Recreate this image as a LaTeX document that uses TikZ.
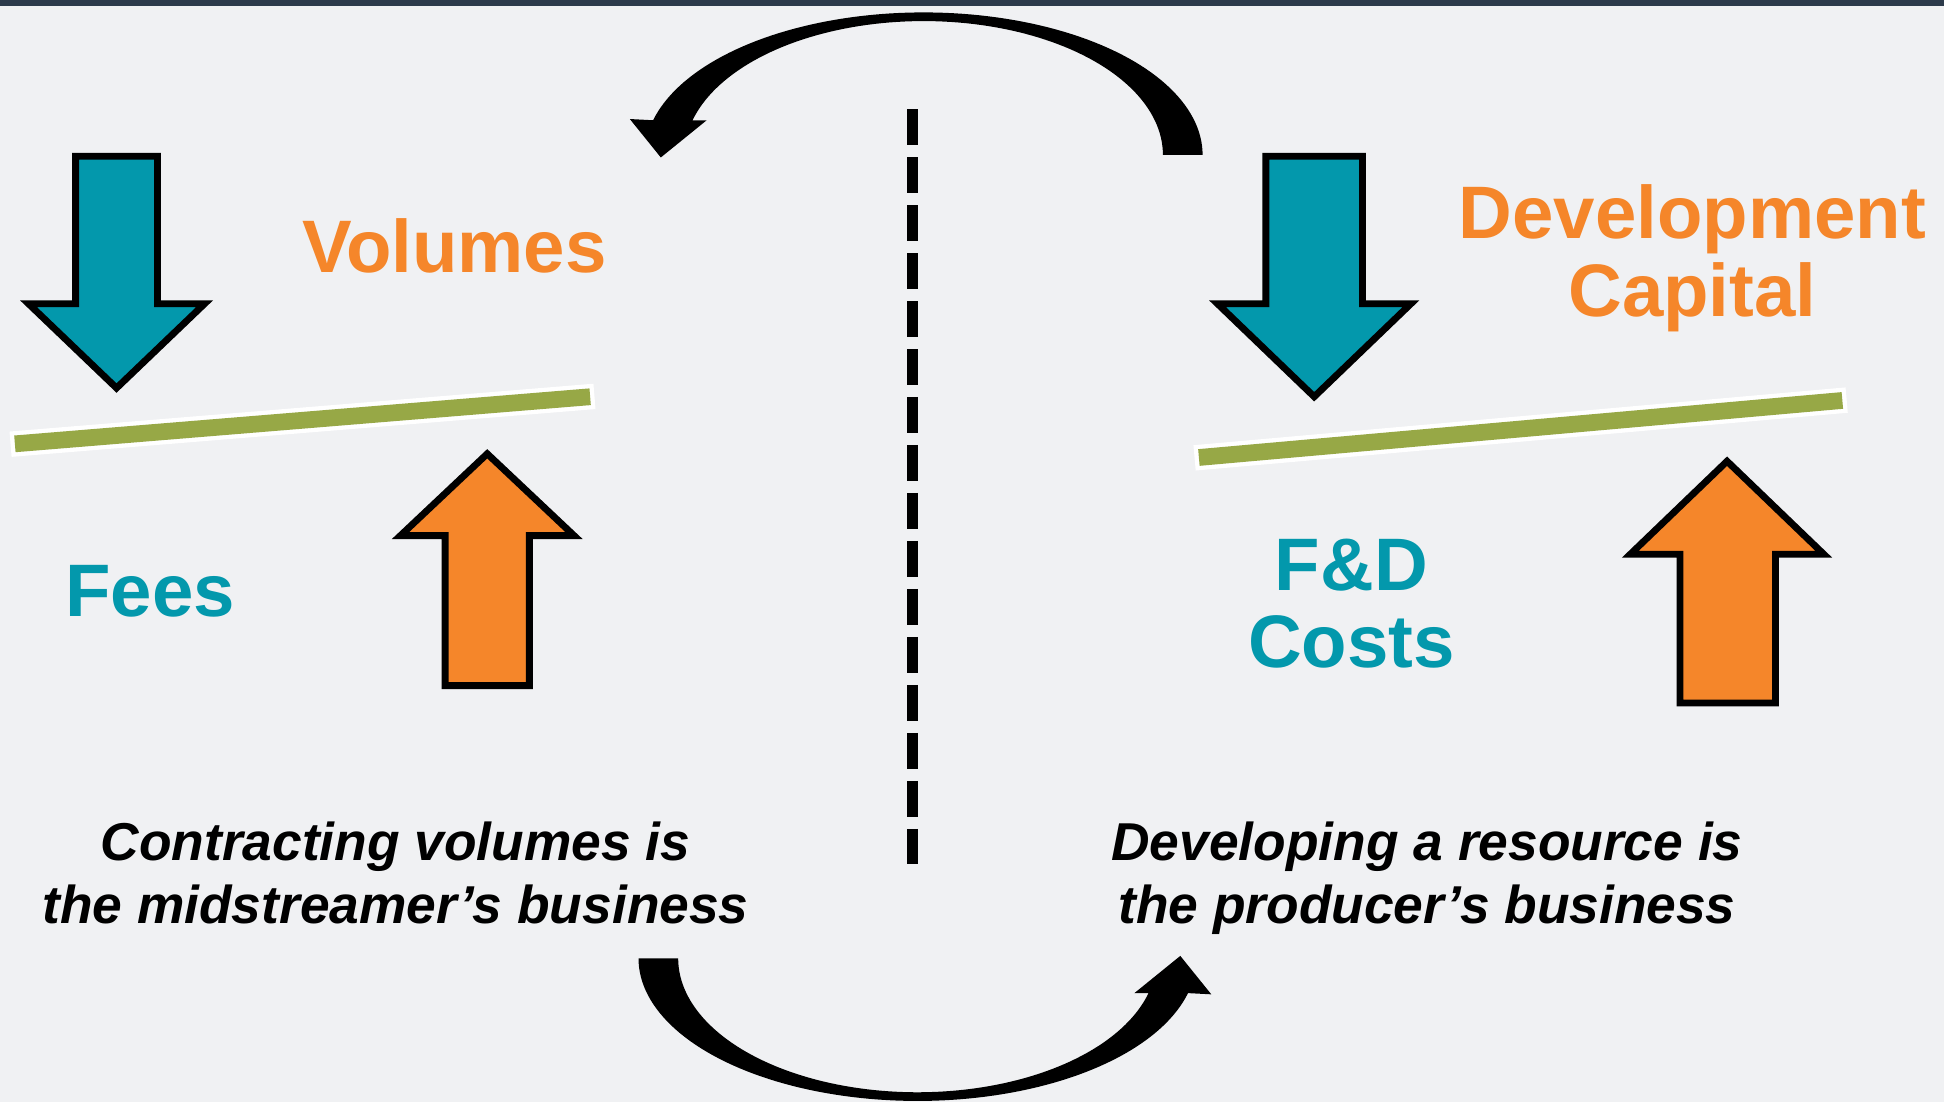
\documentclass[tikz,border=0pt]{standalone}
\usepackage{fontspec}
\setmainfont{Liberation Sans}
\definecolor{pagebg}{HTML}{F0F1F3}
\definecolor{topband}{HTML}{2C3A4B}
\definecolor{tealc}{HTML}{0398AC}
\definecolor{orangec}{HTML}{F5862A}
\definecolor{leverc}{HTML}{97A846}
\begin{document}
\begin{tikzpicture}[x=1pt,y=-1pt,
  blockarrow/.style={draw=black, line width=5.5pt, line join=miter, miter limit=10},
  lever/.style={leverc, line width=13.5pt},
  leverrim/.style={white, line width=20.5pt, shorten <=-3.5pt, shorten >=-3.5pt},
  bigword/.style={font=\fontsize{60}{64}\selectfont\bfseries, inner sep=0pt, anchor=base},
  caption/.style={font=\fontsize{43}{51}\selectfont\bfseries\itshape, inner sep=0pt, anchor=base, text=black},
  swoosh/.style={fill=black},
  divider/.style={black, line width=9.5pt, dash pattern=on 28.8pt off 9.9pt}]

% page
\fill[pagebg] (0,0) rectangle (1568,889);
\useasboundingbox (0,0) rectangle (1568,889);
\fill[topband] (0,0) rectangle (1568,5);

% central divider
\coordinate (divtop) at (736,88);
\coordinate (divbot) at (736,697);
\draw[divider] (divtop) -- (divbot);

% curved arrow over the top, pointing left
\fill[swoosh]
  plot[domain=0:-165.9, samples=90] ({745+225*cos(\x)},{125+115*sin(\x)})
  -- (508,96) -- (533,127) -- (570,97)
  -- plot[domain=-165:0, samples=90] ({745+193*cos(\x)},{125+108*sin(\x)})
  -- cycle;

% the same arrow turned half round, under the bottom, pointing right
\begin{scope}[rotate around={180:(742.5,449)}]
\fill[swoosh]
  plot[domain=0:-165.9, samples=90] ({745+225*cos(\x)},{125+115*sin(\x)})
  -- (508,96) -- (533,127) -- (570,97)
  -- plot[domain=-165:0, samples=90] ({745+193*cos(\x)},{125+108*sin(\x)})
  -- cycle;
\end{scope}

% left balance
\coordinate (levLa) at (12,358);
\coordinate (levLb) at (476,320);
\draw[leverrim] (levLa) -- (levLb);
\draw[lever] (levLa) -- (levLb);
\filldraw[blockarrow, fill=tealc]
  (61,126) -- (127,126) -- (127,245) -- (165,245) -- (94,313) -- (23,245) -- (61,245) -- cycle;
\filldraw[blockarrow, fill=orangec]
  (393,366) -- (463,432) -- (427,432) -- (427,553) -- (359,553) -- (359,432) -- (323,432) -- cycle;

% right balance
\coordinate (levRa) at (967,369);
\coordinate (levRb) at (1486,323);
\draw[leverrim] (levRa) -- (levRb);
\draw[lever] (levRa) -- (levRb);
\filldraw[blockarrow, fill=tealc]
  (1021,126) -- (1099,126) -- (1099,245) -- (1138,245) -- (1060,320) -- (982,245) -- (1021,245) -- cycle;
\filldraw[blockarrow, fill=orangec]
  (1393,372) -- (1471,447) -- (1432,447) -- (1432,567) -- (1355,567) -- (1355,447) -- (1315,447) -- cycle;

% labels
\node[bigword, text=orangec] (volumes) at (366.5,220) {Volumes};
\node[bigword, text=tealc] (fees) at (121,497) {Fees};
\node[bigword, text=orangec] (devcap1) at (1365,192) {Development};
\node[bigword, text=orangec] (devcap2) at (1365,255) {Capital};
\node[bigword, text=tealc] (fdc1) at (1090,476) {F\&D};
\node[bigword, text=tealc] (fdc2) at (1090,538) {Costs};

\node[caption] (midA) at (319,694) {Contracting volumes is};
\node[caption] (midB) at (319,745) {the midstreamer’s business};
\node[caption] (proA) at (1151,694) {Developing a resource is};
\node[caption] (proB) at (1151,745) {the producer’s business};
\end{tikzpicture}
\end{document}
